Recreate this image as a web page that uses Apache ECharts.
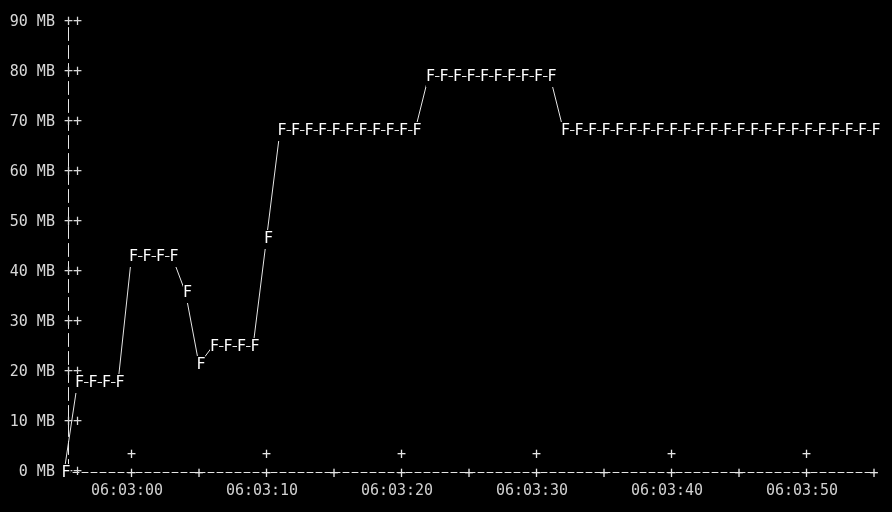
<!DOCTYPE html>
<html>
<head>
<meta charset="utf-8">
<script src="https://cdn.jsdelivr.net/npm/echarts@6/dist/echarts.min.js"></script>
<style>
  html, body { margin: 0; padding: 0; background: #000; overflow: hidden; }
  #chart { width: 892px; height: 512px; }
</style>
</head>
<body>
<div id="chart"></div>
<script>
// sample times (one per second) and memory used in MB
const times = [
  '06:02:55', '06:02:56', '06:02:57', '06:02:58', '06:02:59',
  '06:03:00', '06:03:01', '06:03:02', '06:03:03', '06:03:04',
  '06:03:05', '06:03:06', '06:03:07', '06:03:08', '06:03:09',
  '06:03:10', '06:03:11', '06:03:12', '06:03:13', '06:03:14',
  '06:03:15', '06:03:16', '06:03:17', '06:03:18', '06:03:19',
  '06:03:20', '06:03:21', '06:03:22', '06:03:23', '06:03:24',
  '06:03:25', '06:03:26', '06:03:27', '06:03:28', '06:03:29',
  '06:03:30', '06:03:31', '06:03:32', '06:03:33', '06:03:34',
  '06:03:35', '06:03:36', '06:03:37', '06:03:38', '06:03:39',
  '06:03:40', '06:03:41', '06:03:42', '06:03:43', '06:03:44',
  '06:03:45', '06:03:46', '06:03:47', '06:03:48', '06:03:49',
  '06:03:50', '06:03:51', '06:03:52', '06:03:53', '06:03:54',
  '06:03:55'
]
const memMB = [
  0, 18, 18, 18, 18,
  43.2, 43.2, 43.2, 43.2, 36,
  21.6, 25.2, 25.2, 25.2, 25.2,
  46.8, 68.4, 68.4, 68.4, 68.4,
  68.4, 68.4, 68.4, 68.4, 68.4,
  68.4, 68.4, 79.2, 79.2, 79.2,
  79.2, 79.2, 79.2, 79.2, 79.2,
  79.2, 79.2, 68.4, 68.4, 68.4,
  68.4, 68.4, 68.4, 68.4, 68.4,
  68.4, 68.4, 68.4, 68.4, 68.4,
  68.4, 68.4, 68.4, 68.4, 68.4,
  68.4, 68.4, 68.4, 68.4, 68.4,
  68.4
]
// x tick labels and the minor '+' marks on the axis
const majorTicks = ['06:03:00', '06:03:10', '06:03:20', '06:03:30', '06:03:40', '06:03:50']
const minorTicks = ['06:03:05', '06:03:15', '06:03:25', '06:03:35', '06:03:45', '06:03:55']
const xStart = '06:02:55'
const xEnd = '06:03:55'

const MONO = 'DejaVu Sans Mono'
const FG = '#e6e6e6'

function toSec(s) {
  const p = s.split(':').map(Number)
  return p[0] * 3600 + p[1] * 60 + p[2]
}
function fmt(v) {
  const h = Math.floor(v / 3600), m = Math.floor((v % 3600) / 60), s = Math.round(v % 60)
  return [h, m, s].map(n => String(n).padStart(2, '0')).join(':')
}

const xMin = toSec(xStart), xMax = toSec(xEnd)
const majorVals = majorTicks.map(toSec)
const plusVals = majorTicks.concat(minorTicks).map(toSec)

// extra x axes that only print the '+' tick marks
function hiddenX(vals, margin) {
  return {
    type: 'value', min: xMin, max: xMax, position: 'bottom',
    axisLine: { show: false }, axisTick: { show: false }, splitLine: { show: false },
    axisLabel: {
      customValues: vals, margin: margin, formatter: () => '+',
      color: FG, fontFamily: MONO, fontSize: 15
    }
  }
}

const chart = echarts.init(document.getElementById('chart'))
chart.setOption({
  backgroundColor: '#000',
  animation: false,
  grid: { left: 64, width: 810, top: 22.5, height: 450 },
  xAxis: [
    {
      type: 'value', min: xMin, max: xMax,
      axisLine: { show: true, lineStyle: { color: FG, width: 1, type: [6, 3] } },
      axisTick: { show: false },
      splitLine: { show: false },
      axisLabel: {
        customValues: majorVals, margin: 11, padding: [0, 9, 0, 0],
        formatter: v => fmt(v),
        color: '#d0d0d0', fontFamily: MONO, fontSize: 15
      }
    },
    hiddenX(plusVals, -6),
    hiddenX(majorVals, -25)
  ],
  yAxis: {
    type: 'value', min: 0, max: 90, interval: 10, offset: -4.5,
    axisLine: { show: true, lineStyle: { color: FG, width: 1, type: [13, 5] } },
    axisTick: { show: false },
    splitLine: { show: false },
    axisLabel: {
      margin: -13.5,
      formatter: v => v + ' MB ++',
      color: '#d8d8d8', fontFamily: MONO, fontSize: 15
    }
  },
  series: [{
    type: 'line',
    data: times.map((t, i) => [toSec(t), memMB[i]]),
    symbol: 'circle',
    symbolSize: 1,
    showAllSymbol: true,
    itemStyle: { color: 'rgba(0,0,0,0)' },
    lineStyle: { color: FG, width: 1 },
    label: {
      show: true, position: 'inside', formatter: 'F',
      color: '#fff', fontFamily: MONO, fontSize: 15,
      backgroundColor: '#000', padding: [2, 0]
    },
    labelLayout: { dx: 2, dy: 1, hideOverlap: false }
  }]
})
</script>
</body>
</html>
